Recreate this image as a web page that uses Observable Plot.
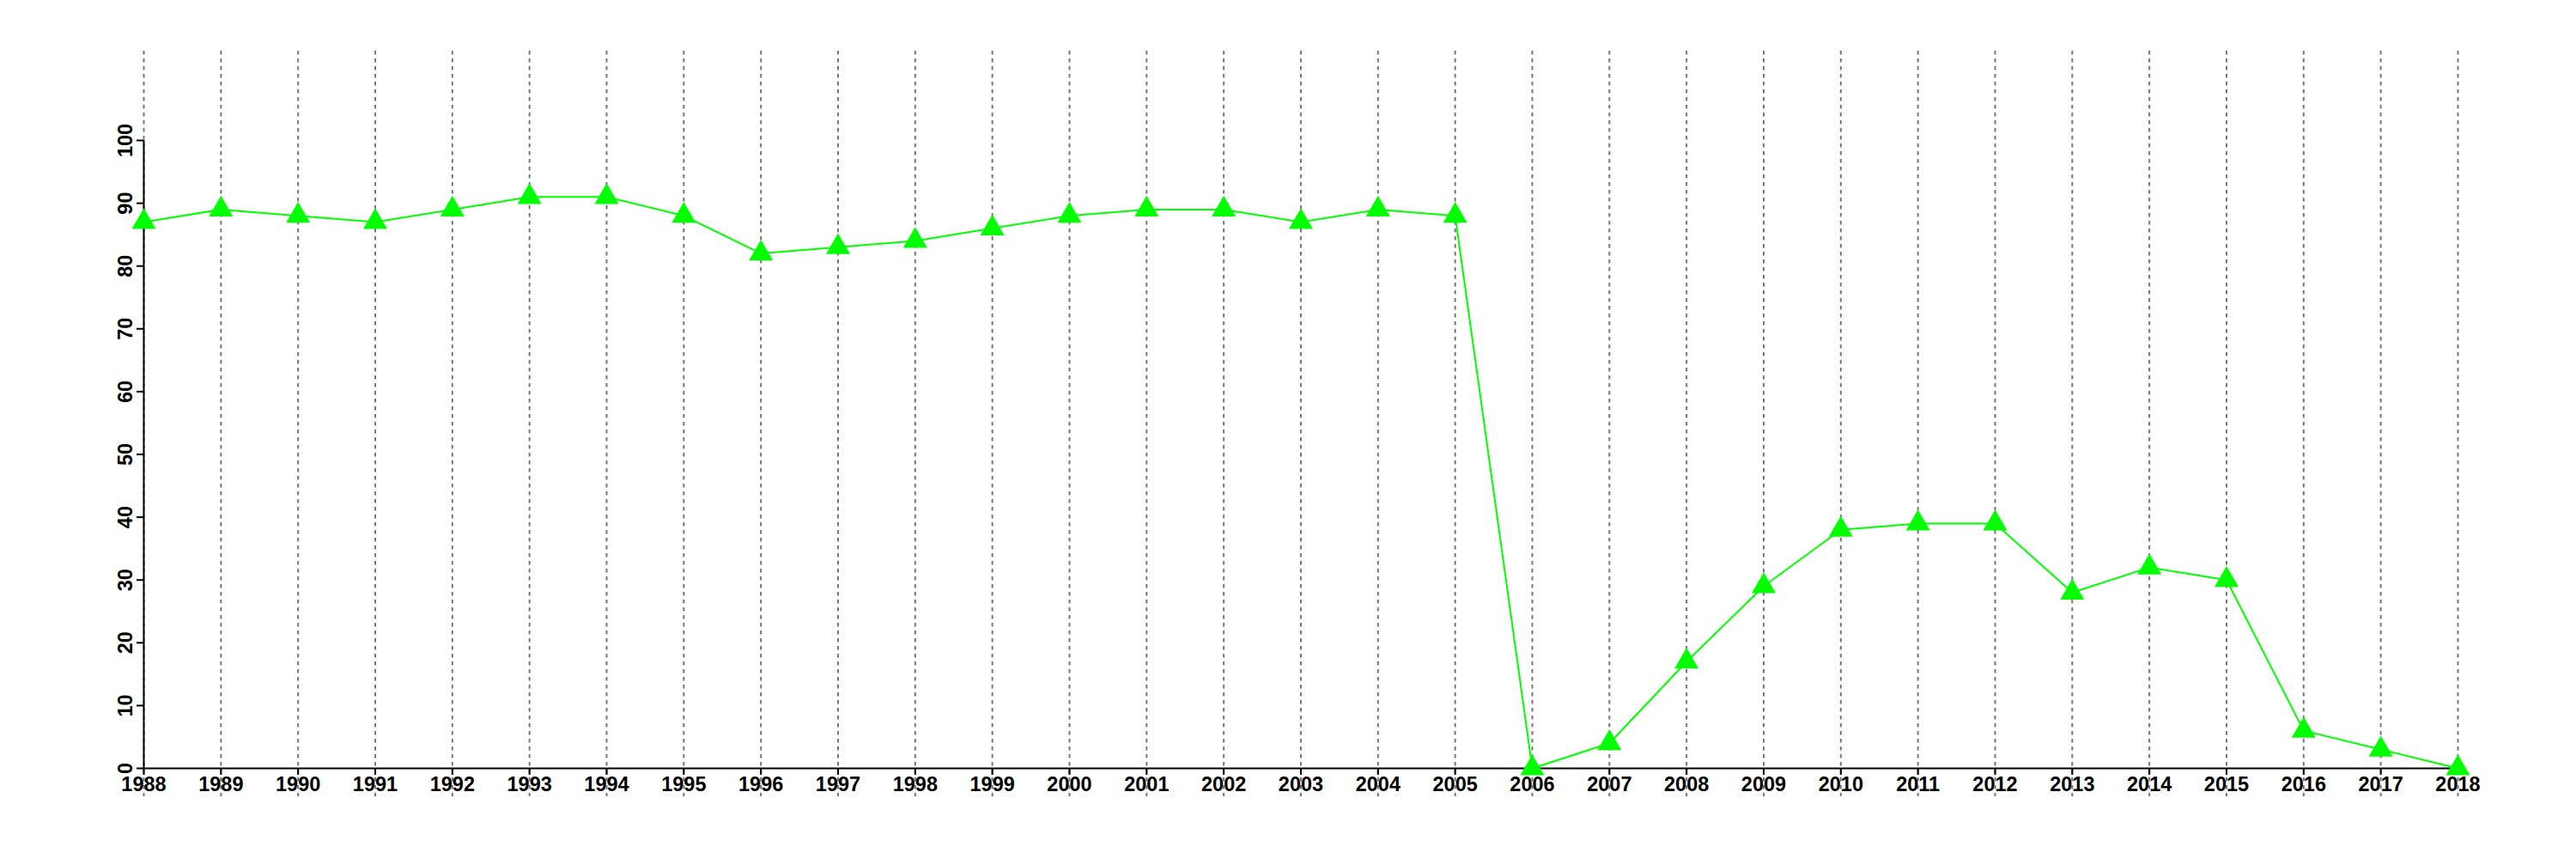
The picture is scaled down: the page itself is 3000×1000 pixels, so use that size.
<!DOCTYPE html>
<html>
<head>
<meta charset="utf-8">
<script src="https://cdn.jsdelivr.net/npm/d3@7"></script>
<script src="https://cdn.jsdelivr.net/npm/@observablehq/plot@0.6"></script>
<style>
  html, body { margin: 0; padding: 0; background: #fff; }
  svg { display: block; }
</style>
</head>
<body>
<div id="chart"></div>
<script>
const years = [1988, 1989, 1990, 1991, 1992, 1993, 1994, 1995, 1996, 1997,
               1998, 1999, 2000, 2001, 2002, 2003, 2004, 2005, 2006, 2007,
               2008, 2009, 2010, 2011, 2012, 2013, 2014, 2015, 2016, 2017, 2018];
const values = [87, 89, 88, 87, 89, 91, 91, 88, 82, 83,
                84, 86, 88, 89, 89, 87, 89, 88, 0, 4,
                17, 29, 38, 39, 39, 28, 32, 30, 6, 3, 0];
const yTicks = [0, 10, 20, 30, 40, 50, 60, 70, 80, 90, 100];

const data = years.map((year, i) => ({year, value: values[i]}));

const chart = Plot.plot({
  width: 3000,
  height: 1000,
  marginLeft: 167,
  marginRight: 138,
  marginTop: 163,
  marginBottom: 106,
  style: {
    fontFamily: "'Liberation Sans', Arial, Helvetica, sans-serif",
    fontSize: "23.5px",
    fontWeight: "bold",
    color: "#000",
    background: "#fff"
  },
  x: {domain: [years[0], years[years.length - 1]]},
  y: {domain: [yTicks[0], yTicks[yTicks.length - 1]]},
  marks: [
    Plot.ruleX(years, {stroke: "#777", strokeWidth: 2, strokeDasharray: "4.5,4.5", insetTop: -104, insetBottom: -33}),
    Plot.axisX({ticks: years, tickFormat: "d", tickSize: 8, tickPadding: 2, label: null, strokeWidth: 2, fill: "#000", fontSize: 23.5, fontWeight: "bold"}),
    Plot.axisY({ticks: yTicks, tickSize: 8, tickRotate: -90, tickPadding: 6, label: null, strokeWidth: 2, fill: "#000", fontSize: 23.5, fontWeight: "bold"}),
    Plot.ruleX([years[0]], {stroke: "#000", strokeWidth: 2}),
    Plot.ruleY([yTicks[0]], {stroke: "#000", strokeWidth: 2}),
    Plot.line(data, {x: "year", y: "value", stroke: "#00ff00", strokeWidth: 2}),
    Plot.dot(data, {x: "year", y: "value", symbol: "triangle", fill: "#00ff00", stroke: "none", r: 10.4})
  ]
});

document.getElementById("chart").appendChild(chart);
</script>
</body>
</html>
